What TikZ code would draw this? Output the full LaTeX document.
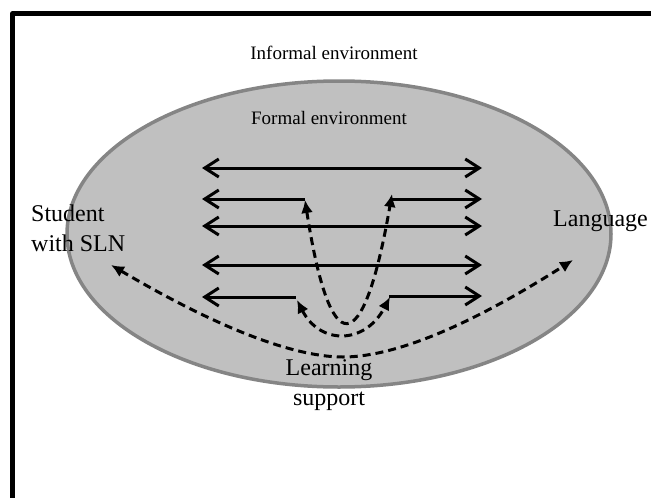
\documentclass[tikz,border=0pt]{standalone}
\usepackage{fontspec}
\setmainfont{Liberation Serif}
\usetikzlibrary{arrows.meta,shapes.geometric}
\definecolor{ellfill}{HTML}{C0C0C0}
\definecolor{ellline}{HTML}{858585}
\begin{document}
\begin{tikzpicture}[x=1pt,y=-1pt,
  frame/.style={line width=4.5pt, line join=round},
  envbox/.style={ellipse, fill=ellfill, draw=ellline, line width=3.5pt, inner sep=0pt, minimum width=544pt, minimum height=306pt},
  envtext/.style={inner sep=0pt, font=\fontsize{19}{23}\selectfont},
  label/.style={inner sep=0pt, font=\fontsize{24}{30}\selectfont},
  harrow/.style={line width=3pt, arrows={Straight Barb[length=14pt,width=18pt]-Straight Barb[length=14pt,width=18pt]}},
  lharrow/.style={line width=3pt, arrows={Straight Barb[length=14pt,width=18pt]-}},
  rharrow/.style={line width=3pt, arrows={-Straight Barb[length=14pt,width=18pt]}},
  darrow/.style={line width=3pt, dash pattern=on 8pt off 5pt, arrows={Latex[length=13pt,width=12pt]-Latex[length=13pt,width=12pt]}}
]
\useasboundingbox (0,0) rectangle (651,498);
% outer frame (informal environment)
\coordinate (fb) at (12.5,520);
\coordinate (fc) at (12.5,13.5);
\coordinate (fr) at (680,13.5);
\draw[frame] (fb) -- (fc) -- (fr);
% formal environment ellipse
\node[envbox] (formal) at (339,234) {};
% texts
\node[envtext] (informal) at (334,53) {Informal environment};
\node[envtext] (formaltxt) at (329,118) {Formal environment};
\node[label, align=left, anchor=west] (student) at (31,228) {Student\\with SLN};
\node[label, anchor=west] (language) at (553,221) {Language};
\node[label, align=center] (support) at (329,385) {Learning\\support};
% horizontal arrows
\coordinate (r1l) at (202,168); \coordinate (r1r) at (482,168);
\coordinate (r2l) at (202,199); \coordinate (r2a) at (305,199);
\coordinate (r2b) at (391,199); \coordinate (r2r) at (482,199);
\coordinate (r3l) at (202,226); \coordinate (r3r) at (482,226);
\coordinate (r4l) at (202,265); \coordinate (r4r) at (482,265);
\coordinate (r5l) at (202,297); \coordinate (r5a) at (296,297);
\coordinate (r5b) at (389,296); \coordinate (r5r) at (482,296);
\draw[harrow] (r1l) -- (r1r);
\draw[lharrow] (r2l) -- (r2a);
\draw[rharrow] (r2b) -- (r2r);
\draw[harrow] (r3l) -- (r3r);
\draw[harrow] (r4l) -- (r4r);
\draw[lharrow] (r5l) -- (r5a);
\draw[rharrow] (r5b) -- (r5r);
% dashed support curves
\coordinate (v1) at (305,200); \coordinate (v2) at (392,194);
\draw[darrow] (v1) .. controls (330,362) and (363,362) .. (v2);
\coordinate (u1) at (297,300); \coordinate (u2) at (390,297);
\draw[darrow] (u1) .. controls (320,345) and (365,345) .. (u2);
\coordinate (s1) at (111,265); \coordinate (sb) at (343,357); \coordinate (s2) at (573,260);
\draw[darrow] (s1) .. controls (230,335) and (300,357) .. (sb) .. controls (386,357) and (455,335) .. (s2);
\end{tikzpicture}
\end{document}
